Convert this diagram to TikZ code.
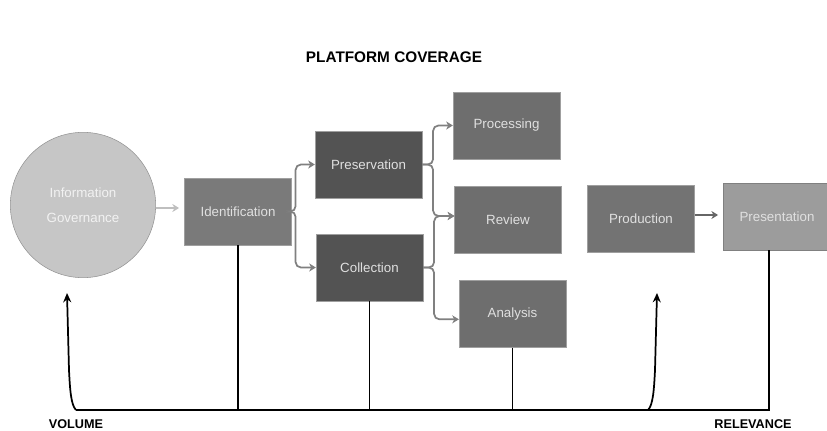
\documentclass[tikz,border=0pt]{standalone}
\usepackage{fontspec}
\setmainfont{Liberation Sans}
\usetikzlibrary{arrows.meta,calc}
\definecolor{dunkel}{HTML}{535353}
\definecolor{mittel}{HTML}{6E6E6E}
\definecolor{hell}{HTML}{9C9C9C}
\definecolor{zweiggrau}{HTML}{808080}
\tikzset{
	kasten/.style={draw=gray!75, fill=#1, text=white!88!black, minimum width=80pt, minimum height=50pt, inner sep=0pt, font=\fontsize{10}{12}\selectfont},
	kasten/.default=mittel,
	zweig/.style={draw=zweiggrau, line width=1.3pt, rounded corners=4pt, -{Stealth[length=5pt,width=6pt,inset=1.5pt]}},
	achse/.style={black, line width=1.3pt},
	beschriftung/.style={font=\bfseries\fontsize{9.5}{11}\selectfont}
}

\begin{document}
\begin{tikzpicture}[x=0.75pt,y=-0.75pt]
\useasboundingbox (0,0) rectangle (827,431);
\node[font=\bfseries\fontsize{11.5}{13}\selectfont] (titel) at (394,57) {PLATFORM COVERAGE};
\node[circle, draw=gray!85, fill=gray!45, minimum size=109pt, inner sep=0pt, align=center, text=white!95!black, font=\fontsize{10}{19}\selectfont] (gov) at (83,205) {Information\\Governance};
\node[kasten=black!52] (ident) at (238,211.5) {Identification};
\node[kasten=dunkel] (pres) at (368.5,164.5) {Preservation};
\node[kasten=dunkel] (coll) at (369.5,267.5) {Collection};
\node[kasten] (proc) at (506.5,125.5) {Processing};
\node[kasten] (rev) at (508,220) {Review};
\node[kasten] (anal) at (512.5,314) {Analysis};
\node[kasten=black!55] (prod) at (641,219) {Production};
\node[kasten=hell, draw=gray] (prst) at (777,216.5) {Presentation};
\draw[zweig, draw=gray!50, line width=1.1pt, rounded corners=0pt, shorten >=4pt] (gov.east |- 0,208) -- (ident.west |- 0,208);
\draw[zweig] (ident.east) -- ++(4,0) |- (pres.west);
\draw[zweig] (ident.east) -- ++(4,0) |- (coll.west);
\draw[zweig] (pres.east) -- ++(11,0) |- (proc.west);
\draw[zweig] (pres.east) -- ++(11,0) |- ([yshift=3pt]rev.west);
\draw[zweig] (coll.east) -- ++(11,0) |- ([yshift=3pt]rev.west);
\draw[zweig] (coll.east) -- ++(11,0) |- ([yshift=-4pt]anal.west);
\draw[zweig, draw=black!60, rounded corners=0pt, shorten >=4pt] (prod.east |- 0,215) -- (prst.west |- 0,215);
\coordinate (vol) at (76,410);
\coordinate (rel) at (769,410);
\coordinate (ruck) at (648,410);
\draw[achse] (vol) -- (rel) -- (rel |- prst.south);
\draw[achse] (ident.south) -- (ident.south |- vol);
\draw[achse] (coll.south) -- (coll.south |- vol);
\draw[achse] (anal.south) -- (anal.south |- vol);
\draw[achse, -{Stealth[length=7pt,width=6pt]}] (vol) .. controls (71,405) and (70,390) .. (69,370) -- (67,293);
\draw[achse, -{Stealth[length=7pt,width=6pt]}] (ruck) .. controls (653,405) and (654,390) .. (655,370) -- (657,293);
\node[beschriftung] (volumen) at (76,424) {VOLUME};
\node[beschriftung] (relevanz) at (753,424) {RELEVANCE};
\end{tikzpicture}
\end{document}
